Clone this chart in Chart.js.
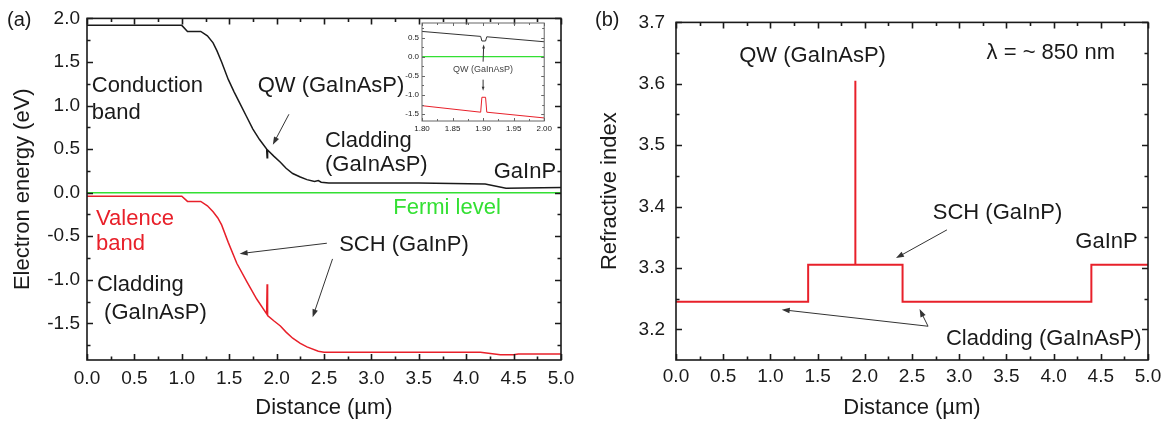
<!DOCTYPE html>
<html>
<head>
<meta charset="utf-8">
<script src="https://cdn.jsdelivr.net/npm/chart.js@4.4.1/dist/chart.umd.min.js"></script>
<style>
  body { margin: 0; background: #fff; }
  #wrap { position: relative; width: 1168px; height: 425px; }
  canvas { position: absolute; }
</style>
</head>
<body>
<div id="wrap">
  <canvas id="chart_a" width="584" height="425" style="left:0;top:0"></canvas>
  <canvas id="chart_b" width="584" height="425" style="left:584px;top:0"></canvas>
  <canvas id="chart_inset" width="160" height="125" style="left:395px;top:12px"></canvas>
</div>
<script>
// tick labels
const distanceTicks = [0, 0.5, 1.0, 1.5, 2.0, 2.5, 3.0, 3.5, 4.0, 4.5, 5.0];
const energyTicks = [-1.5, -1.0, -0.5, 0, 0.5, 1.0, 1.5, 2.0];
const indexTicks = [3.2, 3.3, 3.4, 3.5, 3.6, 3.7];
const insetXTicks = [1.80, 1.85, 1.90, 1.95, 2.00];
const insetYTicks = [-1.5, -1.0, -0.5, 0, 0.5];

// (a) band diagram, distance in um, energy in eV
const cbX = [0, 1.0, 1.06, 1.2, 1.27, 1.33, 1.37, 1.42, 1.49, 1.55, 1.61, 1.68, 1.75, 1.82, 1.895, 1.9, 1.905, 1.97, 2.04, 2.1, 2.17, 2.25, 2.32, 2.4, 2.44, 2.47, 2.55, 3.5, 4.2, 4.42, 5.0];
const cbY = [1.92, 1.92, 1.85, 1.85, 1.80, 1.72, 1.63, 1.50, 1.30, 1.16, 1.03, 0.88, 0.73, 0.61, 0.50, 0.40, 0.49, 0.42, 0.35, 0.28, 0.22, 0.18, 0.15, 0.13, 0.14, 0.12, 0.11, 0.11, 0.10, 0.05, 0.06];
const vbX = [0, 1.0, 1.06, 1.2, 1.27, 1.33, 1.38, 1.42, 1.49, 1.58, 1.69, 1.79, 1.895, 1.9, 1.905, 1.97, 2.04, 2.1, 2.17, 2.25, 2.32, 2.44, 2.5, 4.15, 4.36, 4.5, 4.55, 5.0];
const vbY = [-0.04, -0.04, -0.10, -0.10, -0.15, -0.22, -0.29, -0.37, -0.57, -0.81, -1.03, -1.22, -1.39, -1.05, -1.41, -1.47, -1.53, -1.60, -1.67, -1.73, -1.77, -1.82, -1.83, -1.83, -1.86, -1.86, -1.85, -1.85];
const fermiX = [0, 5.0];
const fermiY = [0, 0];

// inset, zoom on the quantum well
const insetX = [1.80, 1.896, 1.898, 1.904, 1.906, 2.00];
const insetCbY = [0.66, 0.53, 0.41, 0.41, 0.52, 0.39];
const insetVbY = [-1.28, -1.45, -1.06, -1.06, -1.45, -1.60];
const insetFermiX = [1.80, 2.00];
const insetFermiY = [0, 0];

// (b) refractive index profile
const riX = [0, 1.4, 1.4, 1.9, 1.9, 1.9, 2.4, 2.4, 4.4, 4.4, 5.0];
const riY = [3.245, 3.245, 3.305, 3.305, 3.605, 3.305, 3.305, 3.245, 3.245, 3.305, 3.305];

const FONT = "'Liberation Sans', Arial, sans-serif";
const RED = "#e8202a";
const GREEN = "#33e033";
const DARK = "#1a1a1a";

function pts(xs, ys) {
  return xs.map(function (x, i) { return { x: x, y: ys[i] }; });
}

function lineSet(xs, ys, color, width) {
  return {
    data: pts(xs, ys),
    borderColor: color,
    backgroundColor: color,
    borderWidth: width,
    pointRadius: 0,
    tension: 0,
    fill: false
  };
}

function minorOf(values, min, max) {
  var out = [];
  var step = values[1] - values[0];
  out.push(values[0] - step / 2);
  values.forEach(function (v) { out.push(v + step / 2); });
  return out.filter(function (v) { return v > min + 1e-6 && v < max - 1e-6; });
}

// box round the plot with inward ticks on all four sides
function makeFrame(color, width, major, minor) {
  return {
    id: "frame",
    afterDraw: function (chart) {
      const ctx = chart.ctx, a = chart.chartArea;
      const sx = chart.scales.x, sy = chart.scales.y;
      const xs = sx.ticks.map(function (t) { return t.value; });
      const ys = sy.ticks.map(function (t) { return t.value; });
      ctx.save();
      ctx.strokeStyle = color;
      ctx.lineWidth = width;
      ctx.beginPath();
      xs.forEach(function (v) {
        const p = Math.round(sx.getPixelForValue(v)) + 0.5;
        ctx.moveTo(p, a.bottom); ctx.lineTo(p, a.bottom - major);
        ctx.moveTo(p, a.top); ctx.lineTo(p, a.top + major);
      });
      minorOf(xs, sx.min, sx.max).forEach(function (v) {
        const p = Math.round(sx.getPixelForValue(v)) + 0.5;
        ctx.moveTo(p, a.bottom); ctx.lineTo(p, a.bottom - minor);
        ctx.moveTo(p, a.top); ctx.lineTo(p, a.top + minor);
      });
      ys.forEach(function (v) {
        const p = Math.round(sy.getPixelForValue(v)) + 0.5;
        ctx.moveTo(a.left, p); ctx.lineTo(a.left + major, p);
        ctx.moveTo(a.right, p); ctx.lineTo(a.right - major, p);
      });
      minorOf(ys, sy.min, sy.max).forEach(function (v) {
        const p = Math.round(sy.getPixelForValue(v)) + 0.5;
        ctx.moveTo(a.left, p); ctx.lineTo(a.left + minor, p);
        ctx.moveTo(a.right, p); ctx.lineTo(a.right - minor, p);
      });
      ctx.stroke();
      ctx.strokeRect(a.left, a.top, a.right - a.left, a.bottom - a.top);
      ctx.restore();
    }
  };
}

function drawArrow(ctx, x1, y1, x2, y2, head, color) {
  const ang = Math.atan2(y2 - y1, x2 - x1);
  ctx.strokeStyle = color;
  ctx.fillStyle = color;
  ctx.lineWidth = 1;
  ctx.beginPath();
  ctx.moveTo(x1, y1);
  ctx.lineTo(x2 - Math.cos(ang) * head * 0.8, y2 - Math.sin(ang) * head * 0.8);
  ctx.stroke();
  ctx.beginPath();
  ctx.moveTo(x2, y2);
  ctx.lineTo(x2 - head * Math.cos(ang) + head * 0.35 * Math.sin(ang), y2 - head * Math.sin(ang) - head * 0.35 * Math.cos(ang));
  ctx.lineTo(x2 - head * Math.cos(ang) - head * 0.35 * Math.sin(ang), y2 - head * Math.sin(ang) + head * 0.35 * Math.cos(ang));
  ctx.closePath();
  ctx.fill();
}

// text labels and arrows, placed in data units
const notesPlugin = {
  id: "notes",
  afterDraw: function (chart, args, o) {
    const ctx = chart.ctx, sx = chart.scales.x, sy = chart.scales.y;
    ctx.save();
    (o.arrows || []).forEach(function (r) {
      drawArrow(ctx, sx.getPixelForValue(r[0]), sy.getPixelForValue(r[1]),
        sx.getPixelForValue(r[2]), sy.getPixelForValue(r[3]), o.head, o.arrowColor);
    });
    (o.texts || []).forEach(function (t) {
      ctx.font = (t.size || o.size) + "px " + FONT;
      ctx.fillStyle = t.color || DARK;
      ctx.textAlign = t.align || "left";
      ctx.textBaseline = "middle";
      const px = t.abs ? t.x : sx.getPixelForValue(t.x);
      const py = t.abs ? t.y : sy.getPixelForValue(t.y);
      ctx.fillText(t.text, px, py);
    });
    ctx.restore();
  }
};

function axes(opts) {
  return {
    x: {
      type: "linear",
      min: opts.xMin, max: opts.xMax,
      grid: { display: false, drawTicks: false },
      border: { display: false },
      afterBuildTicks: function (s) { s.ticks = opts.xTicks.map(function (v) { return { value: v }; }); },
      afterFit: function (s) { s.height = opts.xHeight; },
      ticks: {
        autoSkip: false, maxRotation: 0, padding: opts.xPad, color: DARK,
        font: { family: FONT, size: opts.tickSize },
        callback: function (v) { return v.toFixed(opts.xDec); }
      },
      title: {
        display: !!opts.xTitle, text: opts.xTitle, color: DARK,
        font: { family: FONT, size: 22 }, padding: { top: 8 }
      }
    },
    y: {
      type: "linear",
      min: opts.yMin, max: opts.yMax,
      grid: { display: false, drawTicks: false },
      border: { display: false },
      afterBuildTicks: function (s) { s.ticks = opts.yTicks.map(function (v) { return { value: v }; }); },
      afterFit: function (s) { s.width = opts.yWidth; },
      ticks: {
        autoSkip: false, padding: opts.yPad, color: DARK,
        font: { family: FONT, size: opts.tickSize },
        callback: function (v) { return v.toFixed(opts.yDec); }
      },
      title: {
        display: !!opts.yTitle, text: opts.yTitle, color: DARK,
        font: { family: FONT, size: 22 }, padding: { top: opts.yTitlePad }
      }
    }
  };
}

Chart.defaults.animation = false;
Chart.defaults.responsive = false;

// (a) band diagram
new Chart(document.getElementById("chart_a"), {
  type: "line",
  data: {
    datasets: [
      lineSet(fermiX, fermiY, GREEN, 1.6),
      lineSet(cbX, cbY, DARK, 1.5),
      lineSet(vbX, vbY, RED, 1.5)
    ]
  },
  plugins: [makeFrame(DARK, 1.6, 6, 3.5), notesPlugin],
  options: {
    layout: { padding: { left: 0, right: 23, top: 15, bottom: 0 } },
    scales: axes({
      xMin: 0, xMax: 5, xTicks: distanceTicks, xDec: 1, xHeight: 65, xPad: 7,
      yMin: -1.92, yMax: 2.0, yTicks: energyTicks, yDec: 1, yWidth: 87, yPad: 7,
      tickSize: 19, xTitle: "Distance (\u00b5m)", yTitle: "Electron energy (eV)", yTitlePad: 10
    }),
    plugins: {
      legend: { display: false },
      tooltip: { enabled: false },
      notes: {
        size: 22, head: 8, arrowColor: "#333",
        texts: [
          { abs: true, x: 7, y: 20, text: "(a)", size: 20 },
          { x: 0.05, y: 1.23, text: "Conduction" },
          { x: 0.05, y: 0.91, text: "band" },
          { x: 1.80, y: 1.23, text: "QW (GaInAsP)" },
          { x: 2.51, y: 0.59, text: "Cladding" },
          { x: 2.51, y: 0.32, text: "(GaInAsP)" },
          { x: 4.29, y: 0.24, text: "GaInP" },
          { x: 3.23, y: -0.17, text: "Fermi level", color: GREEN },
          { x: 0.095, y: -0.30, text: "Valence", color: RED },
          { x: 0.095, y: -0.59, text: "band", color: RED },
          { x: 0.105, y: -1.06, text: "Cladding" },
          { x: 0.18, y: -1.375, text: "(GaInAsP)" },
          { x: 2.66, y: -0.60, text: "SCH (GaInP)" }
        ],
        arrows: [
          [2.13, 0.90, 1.96, 0.55],
          [2.53, -0.58, 1.61, -0.70],
          [2.59, -0.76, 2.38, -1.43]
        ]
      }
    }
  }
});

// inset of (a)
new Chart(document.getElementById("chart_inset"), {
  type: "line",
  data: {
    datasets: [
      lineSet(insetFermiX, insetFermiY, GREEN, 1.2),
      lineSet(insetX, insetCbY, "#333", 1),
      lineSet(insetX, insetVbY, RED, 1)
    ]
  },
  plugins: [makeFrame("#666", 1, 3, 2), notesPlugin],
  options: {
    layout: { padding: { left: 0, right: 9, top: 11, bottom: 0 } },
    scales: axes({
      xMin: 1.80, xMax: 2.00, xTicks: insetXTicks, xDec: 2, xHeight: 16, xPad: 3,
      yMin: -1.68, yMax: 0.88, yTicks: insetYTicks, yDec: 1, yWidth: 27, yPad: 3,
      tickSize: 8
    }),
    plugins: {
      legend: { display: false },
      tooltip: { enabled: false },
      notes: {
        size: 9, head: 4, arrowColor: "#333",
        texts: [
          { x: 1.90, y: -0.34, text: "QW (GaInAsP)", align: "center", color: "#444" }
        ],
        arrows: [
          [1.9, -0.13, 1.901, 0.32],
          [1.9, -0.60, 1.9, -0.89]
        ]
      }
    }
  }
});

// (b) refractive index
new Chart(document.getElementById("chart_b"), {
  type: "line",
  data: {
    datasets: [lineSet(riX, riY, RED, 2)]
  },
  plugins: [makeFrame(DARK, 1.6, 6, 3.5), notesPlugin],
  options: {
    layout: { padding: { left: 0, right: 20, top: 14, bottom: 0 } },
    scales: axes({
      xMin: 0, xMax: 5, xTicks: distanceTicks, xDec: 1, xHeight: 65, xPad: 5,
      yMin: 3.15, yMax: 3.7, yTicks: indexTicks, yDec: 1, yWidth: 92, yPad: 11,
      tickSize: 19, xTitle: "Distance (\u00b5m)", yTitle: "Refractive index", yTitlePad: 13
    }),
    plugins: {
      legend: { display: false },
      tooltip: { enabled: false },
      notes: {
        size: 22, head: 8, arrowColor: "#333",
        texts: [
          { abs: true, x: 11, y: 20, text: "(b)", size: 20 },
          { x: 0.67, y: 3.646, text: "QW (GaInAsP)" },
          { x: 3.29, y: 3.65, text: "\u03bb = ~ 850 nm" },
          { x: 2.72, y: 3.39, text: "SCH (GaInP)" },
          { x: 4.23, y: 3.343, text: "GaInP" },
          { x: 2.86, y: 3.184, text: "Cladding (GaInAsP)" }
        ],
        arrows: [
          [2.87, 3.362, 2.33, 3.316],
          [2.67, 3.205, 1.12, 3.232],
          [2.67, 3.205, 2.58, 3.233]
        ]
      }
    }
  }
});
</script>
</body>
</html>
